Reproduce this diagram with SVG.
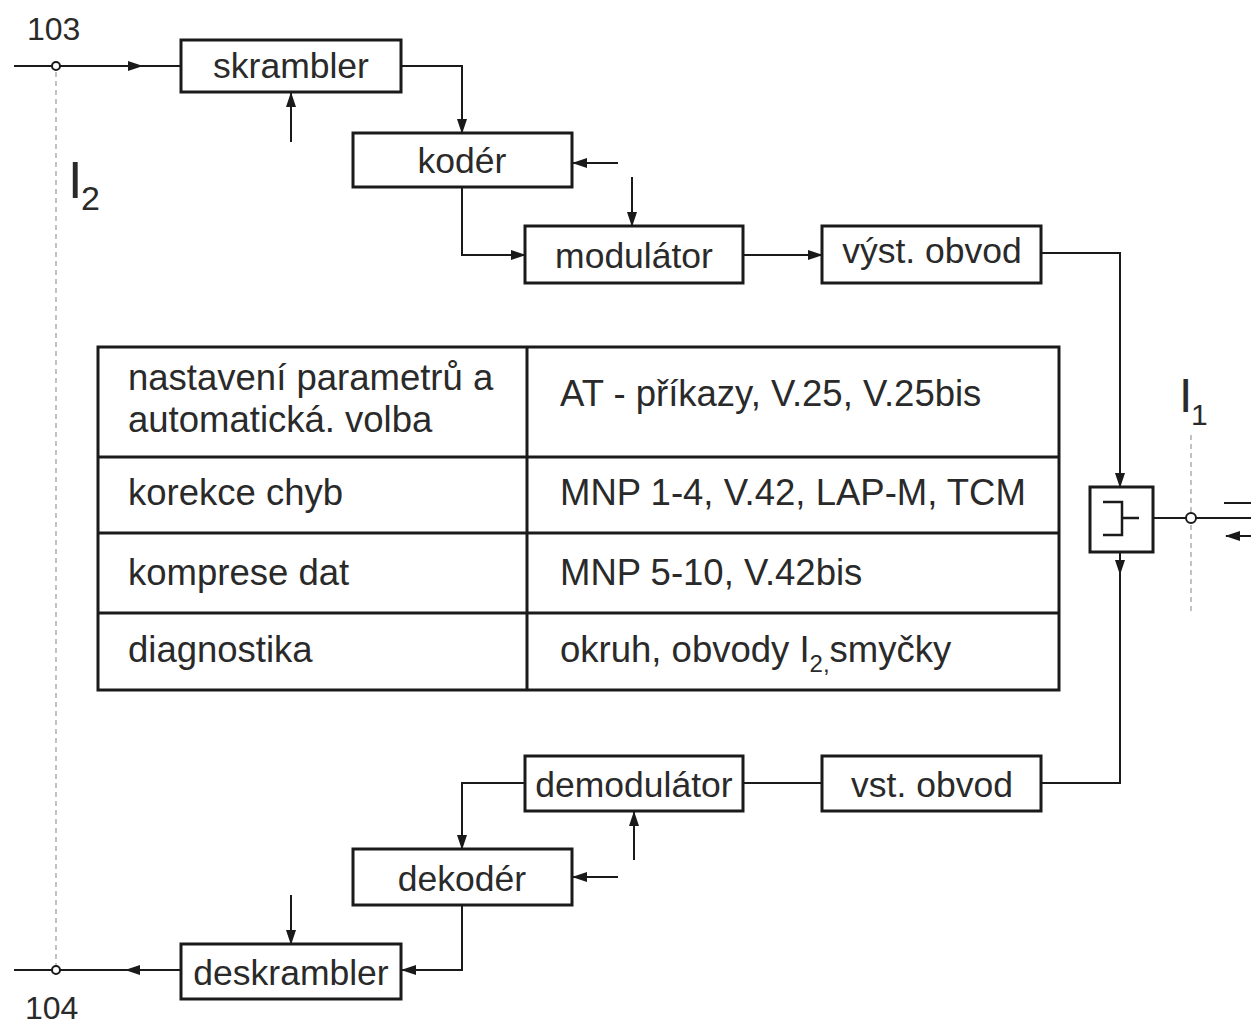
<svg xmlns="http://www.w3.org/2000/svg" width="1251" height="1024" viewBox="0 0 1251 1024">
<defs>
<marker id="ah" markerWidth="15" markerHeight="10" refX="14" refY="5" orient="auto" markerUnits="userSpaceOnUse"><path d="M0,0 L15,5 L0,10 z" fill="#1a1a1a"/></marker>
</defs>
<style>
.box{fill:#fff;stroke:#1a1a1a;stroke-width:3}
.ln{fill:none;stroke:#1a1a1a;stroke-width:2}
.ar{fill:none;stroke:#1a1a1a;stroke-width:2;marker-end:url(#ah)}
.dash{fill:none;stroke:#999;stroke-width:1.2;stroke-dasharray:5,4}
.t{font-family:"Liberation Sans",Arial,sans-serif;font-size:35.5px;fill:#2a2a2a}
.tc{text-anchor:middle}
.tb{font-family:"Liberation Sans",Arial,sans-serif;font-size:36.5px;fill:#2a2a2a}
.pin{fill:#fff;stroke:#1a1a1a;stroke-width:2}
</style>
<rect width="1251" height="1024" fill="#fff"/>

<g id="interface-lines">
<line class="dash" x1="56" y1="72" x2="56" y2="965"/>
<line class="dash" x1="1191" y1="435" x2="1191" y2="612"/>
<text class="t" x="27" y="40" style="font-size:32px">103</text>
<text class="t" x="25" y="1019" style="font-size:32px">104</text>
<text class="t" x="68" y="198" style="font-size:52px">I</text>
<text class="t" x="81" y="210" style="font-size:34px">2</text>
<text class="t" x="1179" y="412" style="font-size:48px">I</text>
<text class="t" x="1191" y="425" style="font-size:30px">1</text>
</g>

<g id="connectors">
<line class="ar" x1="14" y1="66" x2="142" y2="66"/>
<line class="ln" x1="140" y1="66" x2="181" y2="66"/>
<line class="ar" x1="291" y1="142" x2="291" y2="93"/>
<polyline class="ar" points="401,66 462,66 462,133"/>
<line class="ar" x1="618" y1="163" x2="573" y2="163"/>
<line class="ar" x1="632" y1="177" x2="632" y2="226"/>
<polyline class="ar" points="462,187 462,255 525,255"/>
<line class="ar" x1="743" y1="255" x2="822" y2="255"/>
<polyline class="ar" points="1041,253 1120,253 1120,487"/>
<line class="ar" x1="1120" y1="552" x2="1120" y2="574"/>
<polyline class="ln" points="1120,572 1120,783 1041,783"/>
<line class="ln" x1="1153" y1="518" x2="1251" y2="518"/>
<line class="ln" x1="1224" y1="503" x2="1251" y2="503"/>
<line class="ar" x1="1251" y1="536" x2="1226" y2="536"/>
<line class="ln" x1="743" y1="783" x2="822" y2="783"/>
<polyline class="ar" points="525,783 462,783 462,849"/>
<line class="ar" x1="634" y1="860" x2="634" y2="812"/>
<line class="ar" x1="618" y1="877" x2="573" y2="877"/>
<line class="ar" x1="291" y1="895" x2="291" y2="944"/>
<polyline class="ar" points="462,905 462,970 402,970"/>
<line class="ln" x1="181" y1="970" x2="128" y2="970"/>
<line class="ar" x1="140" y1="970" x2="126" y2="970"/>
<line class="ln" x1="128" y1="970" x2="14" y2="970"/>
<circle class="pin" cx="56" cy="66" r="4"/>
<circle class="pin" cx="56" cy="970" r="4"/>
<circle class="pin" cx="1191" cy="518" r="5"/>
</g>

<g id="skrambler"><rect class="box" x="181" y="40" width="220" height="52"/><text class="t tc" x="291" y="78">skrambler</text></g>
<g id="koder"><rect class="box" x="353" y="133" width="219" height="54"/><text class="t tc" x="462" y="173">kodér</text></g>
<g id="modulator"><rect class="box" x="525" y="226" width="218" height="57"/><text class="t tc" x="634" y="268">modulátor</text></g>
<g id="vyst-obvod"><rect class="box" x="822" y="226" width="219" height="57"/><text class="t tc" x="932" y="263">výst. obvod</text></g>
<g id="hybrid"><rect class="box" x="1090" y="487" width="63" height="65"/>
<polyline class="ln" style="stroke-width:2.5" points="1103,502 1122,502 1122,535 1103,535"/>
<line class="ln" style="stroke-width:2.5" x1="1122" y1="518" x2="1139" y2="518"/></g>
<g id="demodulator"><rect class="box" x="525" y="756" width="218" height="55"/><text class="t tc" x="634" y="797">demodulátor</text></g>
<g id="vst-obvod"><rect class="box" x="822" y="756" width="219" height="55"/><text class="t tc" x="932" y="797">vst. obvod</text></g>
<g id="dekoder"><rect class="box" x="353" y="849" width="219" height="56"/><text class="t tc" x="462" y="891">dekodér</text></g>
<g id="deskrambler"><rect class="box" x="181" y="944" width="220" height="55"/><text class="t tc" x="291" y="985">deskrambler</text></g>

<g id="table">
<rect class="box" x="98" y="347" width="961" height="343"/>
<line class="ln" style="stroke-width:3" x1="527" y1="347" x2="527" y2="690"/>
<line class="ln" style="stroke-width:3" x1="98" y1="457" x2="1059" y2="457"/>
<line class="ln" style="stroke-width:3" x1="98" y1="533" x2="1059" y2="533"/>
<line class="ln" style="stroke-width:3" x1="98" y1="613" x2="1059" y2="613"/>
<text class="tb" x="128" y="390">nastavení parametrů a</text>
<text class="tb" x="128" y="432">automatická. volba</text>
<text class="tb" x="560" y="406">AT - příkazy, V.25, V.25bis</text>
<text class="tb" x="128" y="505">korekce chyb</text>
<text class="tb" x="560" y="505">MNP 1-4, V.42, LAP-M, TCM</text>
<text class="tb" x="128" y="585">komprese dat</text>
<text class="tb" x="560" y="585">MNP 5-10, V.42bis</text>
<text class="tb" x="128" y="662">diagnostika</text>
<text class="tb" x="560" y="662">okruh, obvody I<tspan font-size="24" dy="10">2,</tspan><tspan dy="-10">smyčky</tspan></text>
</g>
</svg>
